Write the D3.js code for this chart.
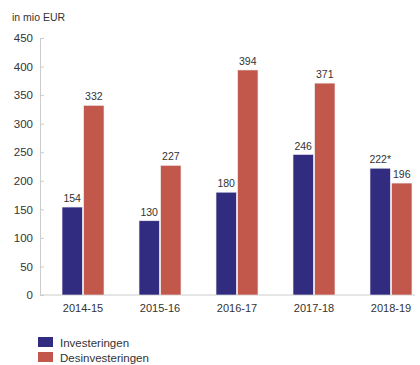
<!DOCTYPE html>
<html>
<head>
<meta charset="utf-8">
<script src="https://cdn.jsdelivr.net/npm/d3@7"></script>
<style>
  body { margin: 0; background: #fff; }
  text { font-family: "Liberation Sans", Arial, sans-serif; fill: #333; }
</style>
</head>
<body>
<svg id="chart" width="420" height="365"></svg>
<script>
// chart data
const years = ["2014-15", "2015-16", "2016-17", "2017-18", "2018-19"];
const seriesNames = ["Investeringen", "Desinvesteringen"];
const investeringen = [154, 130, 180, 246, 222];
const desinvesteringen = [332, 227, 394, 371, 196];
const valueLabels = [
  ["154", "130", "180", "246", "222*"],
  ["332", "227", "394", "371", "196"]
];
const yTicks = [0, 50, 100, 150, 200, 250, 300, 350, 400, 450];
const colors = ["#312c80", "#c2584c"];

let svg = d3.select("#chart");

// scales
const x0 = d3.scaleBand()
  .domain(years)
  .range([27, 447])
  .padding(0.455);

const x1 = d3.scaleBand()
  .domain(seriesNames)
  .range([0, x0.bandwidth()])
  .paddingInner(0.06);

const y = d3.scaleLinear()
  .domain([0, 450])
  .range([295, 38]);

// y axis
const yAxis = d3.axisLeft(y)
  .tickValues(yTicks)
  .tickSize(-4)
  .tickPadding(7);

let gy = svg.append("g")
  .attr("transform", "translate(40,0)")
  .call(yAxis);
gy.select(".domain").attr("stroke", "#ccc");
gy.selectAll(".tick line").attr("stroke", "#ccc");
gy.selectAll("text").style("font-size", "11.5px").attr("fill", "#333");

// baseline
svg.append("line")
  .attr("x1", 40).attr("x2", 415)
  .attr("y1", y(0)).attr("y2", y(0))
  .attr("stroke", "#ccc");

// unit label
svg.append("text")
  .attr("x", 12).attr("y", 21)
  .style("font-size", "10.5px")
  .text("in mio EUR");

// bars
let data = years.map((yr, i) => ({
  year: yr,
  values: [investeringen[i], desinvesteringen[i]],
  labels: [valueLabels[0][i], valueLabels[1][i]]
}));

let groups = svg.selectAll(".group")
  .data(data)
  .enter()
  .append("g")
  .attr("transform", d => `translate(${x0(d.year)},0)`);

groups.selectAll("rect")
  .data(d => d.values.map((v, k) => ({ name: seriesNames[k], value: v, k: k })))
  .enter()
  .append("rect")
  .attr("x", d => x1(d.name))
  .attr("y", d => y(d.value))
  .attr("width", x1.bandwidth())
  .attr("height", d => y(0) - y(d.value))
  .attr("fill", d => colors[d.k])
  .attr("stroke", "#eee")
  .attr("stroke-width", 0.6);

groups.selectAll(".vlabel")
  .data(d => d.values.map((v, k) => ({ name: seriesNames[k], value: v, label: d.labels[k] })))
  .enter()
  .append("text")
  .attr("class", "vlabel")
  .attr("x", d => x1(d.name) + x1.bandwidth() / 2)
  .attr("y", d => y(d.value) - 5)
  .attr("text-anchor", "middle")
  .style("font-size", "10.5px")
  .text(d => d.label);

// x labels
svg.selectAll(".xlabel")
  .data(years)
  .enter()
  .append("text")
  .attr("x", d => x0(d) + x0.bandwidth() / 2)
  .attr("y", 312)
  .attr("text-anchor", "middle")
  .style("font-size", "11px")
  .text(d => d);

// legend (kept low, as in the original, but inside the frame)
let legend = svg.selectAll(".legend")
  .data(seriesNames)
  .enter()
  .append("g")
  .attr("transform", (d, i) => `translate(38,${337 + i * 15})`);

legend.append("rect")
  .attr("width", 15).attr("height", 10)
  .attr("fill", (d, i) => colors[i]);

legend.append("text")
  .attr("x", 22).attr("y", 9.5)
  .style("font-size", "11.5px")
  .text(d => d);
</script>
</body>
</html>
